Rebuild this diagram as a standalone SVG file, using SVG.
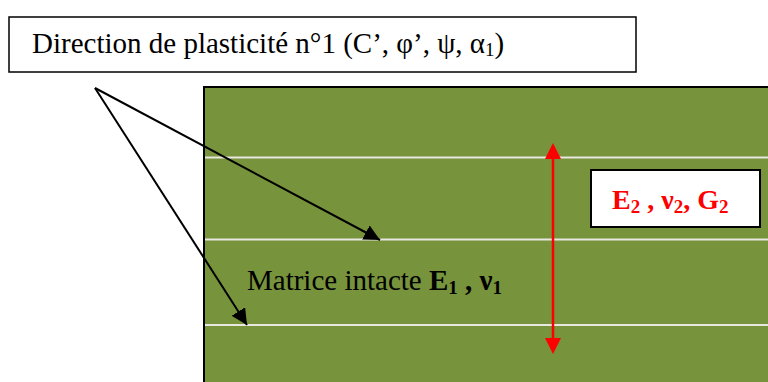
<svg xmlns="http://www.w3.org/2000/svg" width="768" height="382" viewBox="0 0 768 382">
<style>
.t{font-family:"Liberation Serif","Times New Roman",serif;font-size:29px;fill:#000}
.r{font-family:"Liberation Serif","Times New Roman",serif;font-size:28px;font-weight:bold;fill:#ff0000}
.sep{stroke:#e8e8e0;stroke-width:2}
.con{stroke:#000;stroke-width:2;fill:none}
</style>
<defs>
<marker id="ah" markerWidth="16" markerHeight="16" refX="16" refY="8" orient="auto" markerUnits="userSpaceOnUse" viewBox="0 0 16 16"><path d="M0,0 L16,8 L0,16 Z" fill="#000"/></marker>
</defs>
<rect width="768" height="382" fill="#fff"/>
<g id="matrix">
<rect x="204" y="87" width="570" height="300" fill="#77933C" stroke="#000" stroke-width="2"/>
<line class="sep" x1="205" y1="157.5" x2="768" y2="157.5"/>
<line class="sep" x1="205" y1="239.5" x2="768" y2="239.5"/>
<line class="sep" x1="205" y1="325" x2="768" y2="325"/>
<text class="t" x="247" y="290">Matrice intacte <tspan font-weight="bold">E<tspan font-size="19" dy="4">1</tspan><tspan dy="-4"> , ν</tspan><tspan font-size="19" dy="4">1</tspan></tspan></text>
</g>
<g id="title">
<rect x="9" y="17" width="627" height="55" fill="#fff" stroke="#000" stroke-width="1.5"/>
<text class="t" x="32" y="53">Direction de plasticité n°1 (C’, φ’, ψ, α<tspan font-size="19" dy="3">1</tspan><tspan dy="-3">)</tspan></text>
</g>
<g id="props">
<rect x="591" y="170" width="169" height="57" fill="#fff" stroke="#000" stroke-width="2"/>
<text class="r" x="612" y="209">E<tspan font-size="19" dy="4">2</tspan><tspan dy="-4"> , ν</tspan><tspan font-size="19" dy="4">2</tspan><tspan dy="-4">, G</tspan><tspan font-size="19" dy="4">2</tspan></text>
</g>
<g id="connectors">
<line class="con" x1="95" y1="88" x2="380" y2="240" marker-end="url(#ah)"/>
<line class="con" x1="95" y1="88" x2="247" y2="325" marker-end="url(#ah)"/>
<line x1="553" y1="152" x2="553" y2="345" stroke="#ff0000" stroke-width="2.5"/>
<path d="M553,143 L545,159 L561,159 Z" fill="#ff0000"/>
<path d="M553,354 L545,338 L561,338 Z" fill="#ff0000"/>
</g>
</svg>
